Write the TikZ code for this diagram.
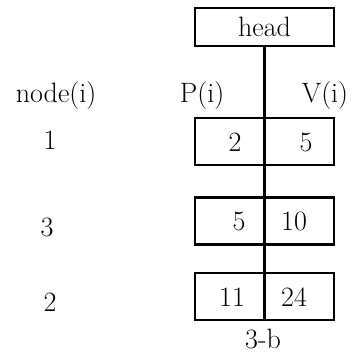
\documentclass[tikz,border=0pt]{standalone}
\begin{document}
\begin{tikzpicture}[x=1pt,y=-1pt,
  every node/.style={font=\fontsize{28}{32}\selectfont, inner sep=0pt},
  rowbox/.style={draw, line width=2.5pt, minimum width=139pt, minimum height=47pt},
  headbox/.style={draw, line width=2.5pt, minimum width=139pt, minimum height=38pt},
  lbl/.style={anchor=center},
  conn/.style={line width=2.6pt}]
\useasboundingbox (0,0) rectangle (351,353);
\node[headbox] (head) at (264.5,27) {head};
\node[rowbox] (r1) at (264.5,141.5) {};
\node[rowbox] (r2) at (264.5,221) {};
\node[rowbox] (r3) at (264.5,296.5) {};
\draw[conn] (head.south) -- (r3.south);
\node[lbl] (ni) at (56,96) {node(i)};
\node[lbl] (pi) at (202,96) {P(i)};
\node[lbl] (vi) at (325,96) {V(i)};
\node[lbl] (n1) at (50,140) {1};
\node[lbl] (n3) at (47,227) {3};
\node[lbl] (n2) at (50,302) {2};
\node[lbl] (p1) at (235,142) {2};
\node[lbl] (v1) at (306,142) {5};
\node[lbl] (p2) at (239,221) {5};
\node[lbl] (v2) at (294,221) {10};
\node[lbl] (p3) at (232,297) {11};
\node[lbl] (v3) at (294,297) {24};
\node[lbl] (cap) at (263,339) {3-b};
\end{tikzpicture}
\end{document}
